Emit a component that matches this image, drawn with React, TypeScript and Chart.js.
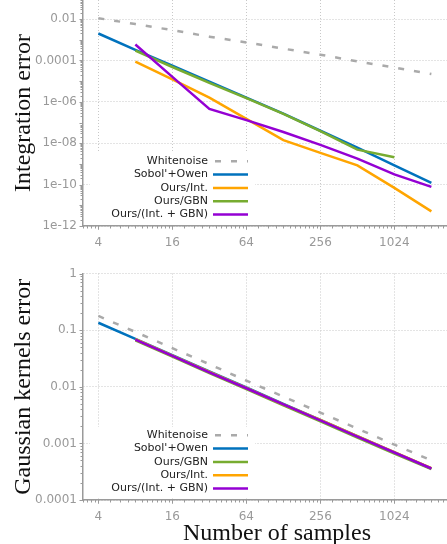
import React, { useEffect, useRef } from "react";
import { Chart, registerables } from "chart.js";

Chart.register(...registerables);

// ---------- data ----------
const SAMPLES = [4, 8, 16, 32, 64, 128, 256, 512, 1024, 2048];
const X_TICKS = [4, 16, 64, 256, 1024];
const X_TICK_LABELS = ["4", "16", "64", "256", "1024"];

// Integration error (top)
const INT_Y_TICKS = [1e-2, 1e-4, 1e-6, 1e-8, 1e-10, 1e-12];
const INT_Y_TICK_LABELS = ["0.01", "0.0001", "1e-06", "1e-08", "1e-10", "1e-12"];
const INT_SERIES_NAMES = ["Whitenoise", "Sobol'+Owen", "Ours/Int.", "Ours/GBN", "Ours/(Int. + GBN)"];
const INT_WHITENOISE = [0.011, 0.0057, 0.0029, 0.0014, 7.4e-4, 3.7e-4, 1.9e-4, 9.0e-5, 4.5e-5, 2.2e-5];
const INT_SOBOL_OWEN = [2.0e-3, 3.2e-4, 5.6e-5, 9.5e-6, 1.6e-6, 2.7e-7, 4.0e-8, 6.1e-9, 8.5e-10, 1.2e-10];
const INT_OURS_INT = [null, 8.7e-5, 1.2e-5, 1.6e-6, 1.5e-7, 1.4e-8, 3.4e-9, 8.5e-10, 6.9e-11, 5.1e-12];
const INT_OURS_GBN = [null, 3.0e-4, 4.8e-5, 8.3e-6, 1.5e-6, 2.6e-7, 3.8e-8, 4.9e-9, 2.1e-9, null];
const INT_OURS_INT_GBN = [null, 5.9e-4, 1.6e-5, 4.5e-7, 1.3e-7, 3.5e-8, 8.3e-9, 1.8e-9, 3.1e-10, 7.8e-11];

// Gaussian kernels error (bottom)
const GK_Y_TICKS = [1, 0.1, 0.01, 0.001, 0.0001];
const GK_Y_TICK_LABELS = ["1", "0.1", "0.01", "0.001", "0.0001"];
const GK_SERIES_NAMES = ["Whitenoise", "Sobol'+Owen", "Ours/GBN", "Ours/Int.", "Ours/(Int. + GBN)"];
const GK_WHITENOISE = [0.178, 0.093, 0.048, 0.025, 0.0128, 0.0067, 0.0035, 0.00182, 9.5e-4, 5.0e-4];
const GK_SOBOL_OWEN = [0.135, 0.07, 0.036, 0.0187, 0.0097, 0.005, 0.0026, 0.00134, 6.95e-4, 3.6e-4];
const GK_OURS_GBN = [null, 0.066, 0.034, 0.0175, 0.0091, 0.0047, 0.00245, 0.00127, 6.6e-4, 3.5e-4];
const GK_OURS_INT = [null, 0.069, 0.0355, 0.0183, 0.0095, 0.0049, 0.0026, 0.00134, 7.0e-4, 3.65e-4];
const GK_OURS_INT_GBN = [null, 0.068, 0.035, 0.018, 0.0094, 0.0049, 0.00255, 0.00132, 6.9e-4, 3.6e-4];

// ---------- styles ----------
const STYLE: Record<string, { color: string; dash?: number[] }> = {
  "Whitenoise": { color: "#aaaaaa", dash: [6, 10] },
  "Sobol'+Owen": { color: "#0072bd" },
  "Ours/Int.": { color: "#ffa500" },
  "Ours/GBN": { color: "#77ac30" },
  "Ours/(Int. + GBN)": { color: "#9400d3" },
};
const TICK_COLOR = "#999999";
const GRID_COLOR = "#c8c8c8";
const AXIS_COLOR = "#9a9a9a";
const TICK_FONT = { family: "'DejaVu Sans', Verdana, sans-serif", size: 12 };
const TITLE_FONT_FAMILY = "'Liberation Serif', 'Times New Roman', serif";

// ---------- plugins ----------
const axisDecor = {
  id: "axisDecor",
  afterDraw(chart: any) {
    const { ctx, chartArea: ca, scales } = chart;
    const x = scales.x;
    const y = scales.y;
    ctx.save();
    ctx.strokeStyle = AXIS_COLOR;
    ctx.lineWidth = 1;
    ctx.beginPath();
    // x minor/major ticks (log base 4 style)
    for (let e = -1; e <= 6; e++) {
      const base = Math.pow(4, e);
      for (let m = 4; m <= 16; m++) {
        const v = (base * m) / 4;
        if (v < x.min || v > x.max) continue;
        const px = Math.round(x.getPixelForValue(v)) + 0.5;
        const len = m === 4 || m === 16 ? 3.5 : 2.5;
        ctx.moveTo(px, ca.bottom);
        ctx.lineTo(px, ca.bottom + len);
      }
    }
    // y minor/major ticks (decades)
    const e0 = Math.floor(Math.log10(y.min)) - 1;
    const e1 = Math.ceil(Math.log10(y.max)) + 1;
    for (let e = e0; e <= e1; e++) {
      for (let m = 1; m <= 9; m++) {
        const v = m * Math.pow(10, e);
        if (v < y.min * 0.999 || v > y.max * 1.001) continue;
        const py = Math.round(y.getPixelForValue(v)) + 0.5;
        const len = m === 1 ? 3.5 : 2.5;
        ctx.moveTo(ca.left - len, py);
        ctx.lineTo(ca.left, py);
      }
    }
    ctx.stroke();
    ctx.restore();
  },
};

const boxLegend = {
  id: "boxLegend",
  afterDatasetsDraw(chart: any) {
    const { ctx, chartArea: ca } = chart;
    const ds = chart.data.datasets;
    const rowH = 13.3;
    const boxL = ca.left + 7;
    const boxR = ca.left + 172;
    const boxB = ca.bottom - 2.5;
    const boxT = ca.bottom - 73;
    ctx.save();
    ctx.fillStyle = "#ffffff";
    ctx.fillRect(boxL, boxT, boxR - boxL, boxB - boxT);
    ctx.font = "11px 'DejaVu Sans', Verdana, sans-serif";
    ctx.textAlign = "right";
    ctx.textBaseline = "middle";
    ds.forEach((d: any, i: number) => {
      const yy = ca.bottom - 11.5 - (ds.length - 1 - i) * rowH;
      ctx.fillStyle = "#222222";
      ctx.fillText(d.label, ca.left + 125, yy);
      ctx.strokeStyle = d.borderColor;
      ctx.lineWidth = d.borderWidth;
      ctx.setLineDash(d.borderDash || []);
      ctx.lineDashOffset = d.borderDash ? -2 : 0;
      ctx.beginPath();
      ctx.moveTo(ca.left + 130, yy);
      ctx.lineTo(ca.left + 165, yy);
      ctx.stroke();
    });
    ctx.restore();
  },
};

// ---------- config ----------
function makeConfig(o: {
  names: string[];
  series: (number | null)[][];
  yMin: number;
  yMax: number;
  yTicks: number[];
  yTickLabels: string[];
  yTitle: string;
  xTitle?: string;
  padTop: number;
  xAxisHeight: number;
}): any {
  const n = o.names.length;
  const datasets = o.names.map((name, i) => ({
    label: name,
    data: SAMPLES.map((s, j) => ({ x: s, y: o.series[i][j] })),
    borderColor: STYLE[name].color,
    backgroundColor: STYLE[name].color,
    borderWidth: 2.5,
    borderDash: STYLE[name].dash,
    pointRadius: 0,
    tension: 0,
    fill: false,
    order: n - i,
  }));
  return {
    type: "line",
    data: { datasets },
    options: {
      animation: false,
      responsive: false,
      maintainAspectRatio: false,
      devicePixelRatio: 1,
      layout: { padding: { top: o.padTop, left: 0, right: 0, bottom: 0 } },
      plugins: { legend: { display: false }, tooltip: { enabled: false } },
      scales: {
        x: {
          type: "logarithmic",
          min: 3,
          max: 4302,
          bounds: "data",
          afterBuildTicks: (s: any) => {
            s.ticks = X_TICKS.map((v) => ({ value: v }));
          },
          afterFit: (s: any) => {
            s.height = o.xAxisHeight;
            s.paddingLeft = 0;
            s.paddingRight = 0;
          },
          ticks: {
            autoSkip: false,
            maxRotation: 0,
            padding: 10,
            color: TICK_COLOR,
            font: TICK_FONT,
            callback: (v: number) => X_TICK_LABELS[X_TICKS.indexOf(v)] ?? "",
          },
          grid: { color: GRID_COLOR, lineWidth: 1, drawTicks: false },
          border: { display: true, color: AXIS_COLOR, width: 1.5, dash: [1, 2] },
          title: {
            display: !!o.xTitle,
            text: o.xTitle || "",
            color: "#111111",
            font: { family: TITLE_FONT_FAMILY, size: 24, lineHeight: 0.866 },
            padding: { top: 0, bottom: 0 },
          },
        },
        y: {
          type: "logarithmic",
          min: o.yMin,
          max: o.yMax,
          bounds: "data",
          afterBuildTicks: (s: any) => {
            s.ticks = o.yTicks.map((v) => ({ value: v }));
          },
          afterFit: (s: any) => {
            s.width = 83;
            s.paddingTop = 0;
            s.paddingBottom = 0;
          },
          ticks: {
            autoSkip: false,
            padding: 6,
            color: TICK_COLOR,
            font: TICK_FONT,
            callback: (v: number) => {
              const k = o.yTicks.findIndex((t) => Math.abs(t - v) / t < 1e-6);
              return k >= 0 ? o.yTickLabels[k] : "";
            },
          },
          grid: { color: GRID_COLOR, lineWidth: 1, drawTicks: false },
          border: { display: true, color: AXIS_COLOR, width: 1.5, dash: [1, 2] },
          title: {
            display: true,
            text: o.yTitle,
            color: "#111111",
            font: { family: TITLE_FONT_FAMILY, size: 24, lineHeight: 1.2 },
            padding: { top: 9.2, bottom: 0 },
          },
        },
      },
    },
    plugins: [axisDecor, boxLegend],
  };
}

export default function App() {
  const topRef = useRef<HTMLCanvasElement>(null);
  const botRef = useRef<HTMLCanvasElement>(null);

  useEffect(() => {
    const c1 = new Chart(
      topRef.current as HTMLCanvasElement,
      makeConfig({
        names: INT_SERIES_NAMES,
        series: [INT_WHITENOISE, INT_SOBOL_OWEN, INT_OURS_INT, INT_OURS_GBN, INT_OURS_INT_GBN],
        yMin: 1e-12,
        yMax: 0.083,
        yTicks: INT_Y_TICKS,
        yTickLabels: INT_Y_TICK_LABELS,
        yTitle: "Integration error",
        padTop: 0,
        xAxisHeight: 39,
      })
    );
    const c2 = new Chart(
      botRef.current as HTMLCanvasElement,
      makeConfig({
        names: GK_SERIES_NAMES,
        series: [GK_WHITENOISE, GK_SOBOL_OWEN, GK_OURS_GBN, GK_OURS_INT, GK_OURS_INT_GBN],
        yMin: 0.0001,
        yMax: 1,
        yTicks: GK_Y_TICKS,
        yTickLabels: GK_Y_TICK_LABELS,
        yTitle: "Gaussian kernels error",
        xTitle: "Number of samples",
        padTop: 8.5,
        xAxisHeight: 44,
      })
    );
    return () => {
      c1.destroy();
      c2.destroy();
    };
  }, []);

  return (
    <div
      style={{
        position: "absolute",
        left: 0,
        top: 0,
        width: 447,
        height: 544,
        overflow: "hidden",
        background: "#ffffff",
      }}
    >
      <canvas
        ref={topRef}
        width={471}
        height={265}
        style={{ position: "absolute", left: 0, top: 0, width: 471, height: 265 }}
      />
      <canvas
        ref={botRef}
        width={471}
        height={279}
        style={{ position: "absolute", left: 0, top: 265, width: 471, height: 279 }}
      />
    </div>
  );
}
